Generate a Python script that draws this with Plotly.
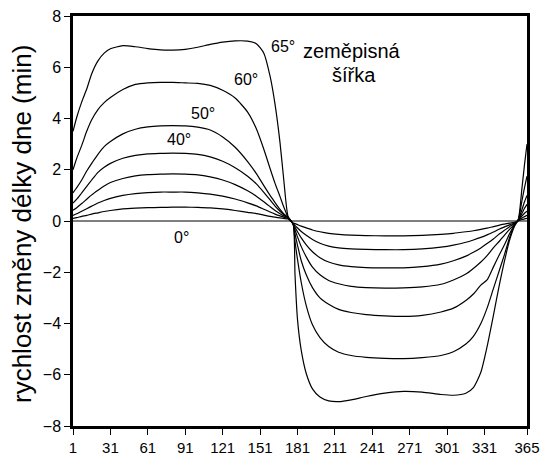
import plotly.graph_objects as go

# Day of year sample points shared by every latitude curve
days = [1, 4, 8, 12, 16, 21, 26, 31, 41, 51, 61, 71, 81, 91, 101, 111, 121, 131,
        141, 148, 154, 159, 163, 167, 170, 173.5,
        177.5, 179, 181, 184, 188, 193, 199, 206, 214, 224, 236, 251, 266, 281,
        296, 306, 316, 322, 328, 333, 338, 343, 347, 351, 355, 358, 361, 363, 365]

# Rate of change of day length (min per day) for each latitude
lat_65 = [3.5, 4.05, 4.65, 5.15, 5.75, 6.25, 6.55, 6.72, 6.84, 6.8, 6.73, 6.68, 6.67, 6.7,
          6.78, 6.89, 6.98, 7.03, 7.02, 6.92, 6.55, 5.65, 4.55, 3.05, 1.6, 0.17,
          -0.12, -2.1, -3.85, -5.05, -5.95, -6.55, -6.87, -7.02, -7.05, -6.98, -6.85,
          -6.72, -6.65, -6.68, -6.77, -6.8, -6.72, -6.5, -5.9, -4.9, -3.7, -2.45,
          -1.55, -0.75, -0.2, 0.05, 1.3, 2.2, 3.0]
lat_60 = [2.0, 2.45, 2.95, 3.5, 3.95, 4.35, 4.62, 4.82, 5.13, 5.33, 5.39, 5.41, 5.41, 5.39,
          5.37, 5.29, 5.1, 4.8, 4.25, 3.6, 2.8, 2.05, 1.47, 0.95, 0.55, 0.15,
          -0.12, -0.8, -1.5, -2.4, -3.3, -4.05, -4.55, -4.9, -5.12, -5.25, -5.32,
          -5.36, -5.37, -5.33, -5.25, -5.1, -4.8, -4.5, -4.0, -3.4, -2.65, -1.9,
          -1.3, -0.65, -0.15, 0.05, 0.8, 1.3, 1.75]
lat_50 = [1.1, 1.3, 1.6, 1.95, 2.25, 2.6, 2.9, 3.1, 3.4, 3.58, 3.67, 3.71, 3.72, 3.71,
          3.66, 3.55, 3.28, 2.88, 2.32, 1.85, 1.38, 1.0, 0.72, 0.45, 0.28, 0.13,
          -0.12, -0.5, -0.95, -1.55, -2.1, -2.6, -3.0, -3.25, -3.45, -3.57, -3.65,
          -3.7, -3.72, -3.68, -3.55, -3.4, -3.1, -2.85, -2.5, -2.3, -1.8, -1.3,
          -0.92, -0.5, -0.15, 0.05, 0.45, 0.75, 1.0]
lat_40 = [0.7, 0.85, 1.1, 1.35, 1.6, 1.9, 2.1, 2.25, 2.45, 2.56, 2.62, 2.64, 2.65, 2.64,
          2.6, 2.5, 2.33, 2.08, 1.75, 1.45, 1.12, 0.82, 0.58, 0.38, 0.25, 0.12,
          -0.12, -0.35, -0.62, -1.0, -1.4, -1.8, -2.1, -2.32, -2.45, -2.55, -2.6,
          -2.62, -2.61, -2.57, -2.47, -2.3, -2.07, -1.85, -1.6, -1.35, -1.05, -0.78,
          -0.55, -0.33, -0.12, 0.03, 0.3, 0.5, 0.65]
lat_30 = [0.42, 0.52, 0.68, 0.85, 1.02, 1.2, 1.37, 1.5, 1.66, 1.76, 1.81, 1.83, 1.84, 1.83,
          1.8, 1.72, 1.6, 1.42, 1.18, 0.97, 0.75, 0.56, 0.41, 0.28, 0.2, 0.12,
          -0.12, -0.25, -0.42, -0.66, -0.93, -1.2, -1.43, -1.6, -1.71, -1.78, -1.82,
          -1.83, -1.83, -1.78, -1.68, -1.55, -1.37, -1.22, -1.05, -0.88, -0.7, -0.5,
          -0.36, -0.22, -0.1, 0.02, 0.2, 0.3, 0.38]
lat_20 = [0.22, 0.28, 0.38, 0.48, 0.58, 0.7, 0.8, 0.88, 1.0, 1.07, 1.11, 1.13, 1.13, 1.13,
          1.1, 1.05, 0.97, 0.86, 0.71, 0.59, 0.46, 0.35, 0.27, 0.2, 0.15, 0.1,
          -0.1, -0.17, -0.27, -0.41, -0.56, -0.72, -0.87, -0.98, -1.05, -1.09, -1.11,
          -1.12, -1.12, -1.09, -1.02, -0.94, -0.83, -0.74, -0.64, -0.54, -0.43, -0.31,
          -0.23, -0.15, -0.08, 0.02, 0.12, 0.17, 0.22]
lat_10 = [0.1, 0.13, 0.18, 0.22, 0.27, 0.32, 0.37, 0.41, 0.47, 0.5, 0.52, 0.53, 0.54, 0.54,
          0.53, 0.51, 0.47, 0.41, 0.34, 0.29, 0.23, 0.18, 0.15, 0.12, 0.1, 0.08,
          -0.08, -0.1, -0.14, -0.2, -0.27, -0.35, -0.42, -0.48, -0.52, -0.55, -0.57,
          -0.58, -0.58, -0.56, -0.52, -0.48, -0.42, -0.38, -0.33, -0.28, -0.22, -0.16,
          -0.12, -0.08, -0.05, 0.01, 0.06, 0.08, 0.1]
lat_0 = [0.0] * len(days)

x_ticks = [1, 31, 61, 91, 121, 151, 181, 211, 241, 271, 301, 331, 365]
y_ticks = [-8, -6, -4, -2, 0, 2, 4, 6, 8]

# Curve labels: (text, day, value)
curve_labels = [("65°", 169.7, 6.82), ("60°", 140, 5.53), ("50°", 105.6, 4.2),
                ("40°", 86.3, 3.18), ("0°", 88, -0.64)]

FONT = "Liberation Sans, Arial, Helvetica, sans-serif"

fig = go.Figure()
for series in [lat_0, lat_10, lat_20, lat_30, lat_40, lat_50, lat_60, lat_65]:
    fig.add_trace(go.Scatter(
        x=days, y=series, mode="lines",
        line=dict(color="black", width=1.2, shape="spline", smoothing=0.6),
        showlegend=False, hoverinfo="skip"))

for text, dx, dy in curve_labels:
    fig.add_annotation(x=dx, y=dy, text=text, showarrow=False,
                       font=dict(family=FONT, size=16, color="black"))

fig.add_annotation(x=225, y=6.62, text="zeměpisná", showarrow=False,
                   font=dict(family=FONT, size=20, color="black"))
fig.add_annotation(x=226.6, y=5.68, text="šířka", showarrow=False,
                   font=dict(family=FONT, size=20, color="black"))

# Vertical axis title
fig.add_annotation(xref="paper", yref="paper", x=-0.1123, y=0.4927,
                   xanchor="center", yanchor="middle", textangle=-90,
                   text="rychlost změny délky dne (min)", showarrow=False,
                   font=dict(family=FONT, size=26, color="black"))

fig.update_layout(
    width=541, height=457,
    margin=dict(l=73, r=14, t=16, b=31),
    paper_bgcolor="white", plot_bgcolor="white",
    font=dict(family=FONT, size=15, color="black"),
)
fig.update_xaxes(range=[1, 365], tickvals=x_ticks, ticktext=[str(t) for t in x_ticks],
                 showgrid=False, zeroline=False, showline=True, mirror=True,
                 automargin=False, ticklabeloverflow="allow",
                 linecolor="black", linewidth=2.5, ticks="outside", ticklen=6,
                 tickwidth=1.2, tickcolor="black", tickfont=dict(size=15))
fig.update_yaxes(range=[-8, 8], tickvals=y_ticks,
                 showgrid=False, zeroline=False, showline=True, mirror=True,
                 automargin=False, ticklabeloverflow="allow",
                 linecolor="black", linewidth=2.5, ticks="outside", ticklen=6,
                 tickwidth=1.2, tickcolor="black", tickfont=dict(size=16))

fig.write_html("out.html")
